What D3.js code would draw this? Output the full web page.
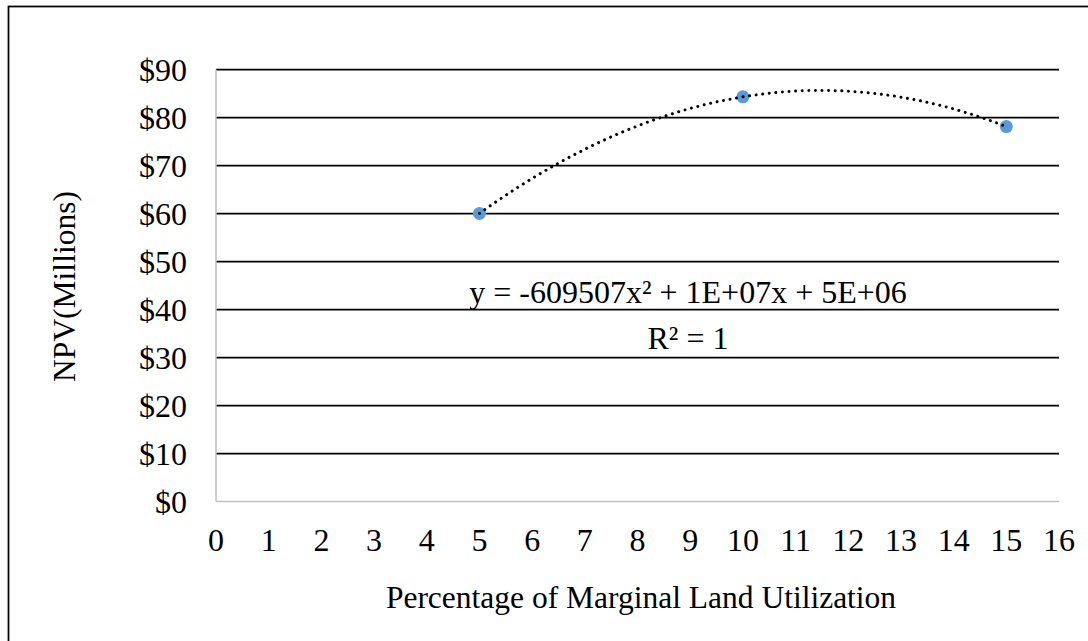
<!DOCTYPE html>
<html>
<head>
<meta charset="utf-8">
<script src="https://cdn.jsdelivr.net/npm/d3@7/dist/d3.min.js"></script>
<style>
  html, body { margin: 0; padding: 0; background: #fff; }
  svg { display: block; }
</style>
</head>
<body>
<svg id="chart" width="1088" height="641"></svg>
<script>
// NPV (millions of dollars) by share of marginal land used
const utilization = [5, 10, 15];
const npvMillions = [60.0, 84.3, 78.1];
const xTicks = d3.range(0, 17);
const yTicks = d3.range(0, 100, 10);
const equationLines = ["y = -609507x\u00B2 + 1E+07x + 5E+06", "R\u00B2 = 1"];

const FONT = "'Liberation Serif', 'Times New Roman', Times, serif";
const FS = 32;
const FS_TITLE = 31.5;

const svg = d3.select("#chart").attr("font-family", FONT);
const W = 1088, H = 641;
const plot = { left: 216, right: 1059, top: 69.5, bottom: 501.5 };

svg.append("rect").attr("width", W).attr("height", H).attr("fill", "#fff");
// chart frame
svg.append("rect")
  .attr("x", 8.5).attr("y", 6.5).attr("width", 1200).attr("height", 800)
  .attr("fill", "none").attr("stroke", "#000").attr("stroke-width", 1.75);

const x = d3.scaleLinear().domain([0, 16]).range([plot.left, plot.right]);
const y = d3.scaleLinear().domain([0, 90]).range([plot.bottom, plot.top]);

// horizontal gridlines
svg.append("g").selectAll("line")
  .data(yTicks.filter(d => d > 0))
  .join("line")
  .attr("x1", plot.left).attr("x2", plot.right)
  .attr("y1", d => y(d)).attr("y2", d => y(d))
  .attr("stroke", "#000").attr("stroke-width", 1.75);

// axis lines
svg.append("line")
  .attr("x1", plot.left).attr("x2", plot.left)
  .attr("y1", plot.top).attr("y2", plot.bottom)
  .attr("stroke", "#bfbfbf").attr("stroke-width", 1.5);
svg.append("line")
  .attr("x1", plot.left).attr("x2", plot.right)
  .attr("y1", plot.bottom).attr("y2", plot.bottom)
  .attr("stroke", "#bfbfbf").attr("stroke-width", 1.5);

// y tick labels
svg.append("g").selectAll("text")
  .data(yTicks)
  .join("text")
  .attr("font-family", FONT)
  .attr("x", 187).attr("y", d => y(d) + 11)
  .attr("text-anchor", "end")
  .attr("font-size", FS)
  .text(d => "$" + d);

// x tick labels
svg.append("g").selectAll("text")
  .data(xTicks)
  .join("text")
  .attr("font-family", FONT)
  .attr("x", d => x(d)).attr("y", 551)
  .attr("text-anchor", "middle")
  .attr("font-size", FS)
  .text(d => d);

// axis titles
svg.append("text")
  .attr("font-family", FONT)
  .attr("transform", "translate(75," + ((plot.top + plot.bottom) / 2 + 1) + ") rotate(-90)")
  .attr("text-anchor", "middle")
  .attr("font-size", FS_TITLE)
  .text("NPV(Millions)");
svg.append("text")
  .attr("font-family", FONT)
  .attr("x", 641).attr("y", 608)
  .attr("text-anchor", "middle")
  .attr("font-size", FS_TITLE)
  .text("Percentage of Marginal Land Utilization");

// quadratic trendline through the points (least squares, exact for 3 points)
function fitQuadratic(xs, ys) {
  const n = xs.length;
  let s = Array(5).fill(0), t = Array(3).fill(0);
  for (let i = 0; i < n; i++) {
    for (let k = 0; k < 5; k++) s[k] += Math.pow(xs[i], k);
    for (let k = 0; k < 3; k++) t[k] += ys[i] * Math.pow(xs[i], k);
  }
  const M = [[s[0], s[1], s[2], t[0]], [s[1], s[2], s[3], t[1]], [s[2], s[3], s[4], t[2]]];
  for (let c = 0; c < 3; c++) {
    for (let r = c + 1; r < 3; r++) {
      const f = M[r][c] / M[c][c];
      for (let k = c; k < 4; k++) M[r][k] -= f * M[c][k];
    }
  }
  const coef = [0, 0, 0];
  for (let r = 2; r >= 0; r--) {
    let v = M[r][3];
    for (let k = r + 1; k < 3; k++) v -= M[r][k] * coef[k];
    coef[r] = v / M[r][r];
  }
  return xv => coef[0] + coef[1] * xv + coef[2] * xv * xv;
}
const trend = fitQuadratic(utilization, npvMillions);
const trendPts = d3.range(0, 201).map(i => {
  const xv = utilization[0] + (utilization[utilization.length - 1] - utilization[0]) * i / 200;
  return [xv, trend(xv)];
});

// data markers
svg.append("g").selectAll("circle")
  .data(utilization.map((u, i) => [u, npvMillions[i]]))
  .join("circle")
  .attr("cx", d => x(d[0])).attr("cy", d => y(d[1]))
  .attr("r", 6.5)
  .attr("fill", "#5b9bd5");

// dotted polynomial trendline, drawn over the markers
svg.append("path")
  .datum(trendPts)
  .attr("fill", "none")
  .attr("stroke", "#000")
  .attr("stroke-width", 3)
  .attr("stroke-linecap", "round")
  .attr("stroke-dasharray", "0.01 6.6")
  .attr("d", d3.line().x(d => x(d[0])).y(d => y(d[1])));

// trendline equation
svg.append("g").selectAll("text")
  .data(equationLines)
  .join("text")
  .attr("font-family", FONT)
  .attr("x", 688).attr("y", (d, i) => 303 + i * 46)
  .attr("text-anchor", "middle")
  .attr("font-size", FS)
  .text(d => d);
</script>
</body>
</html>
